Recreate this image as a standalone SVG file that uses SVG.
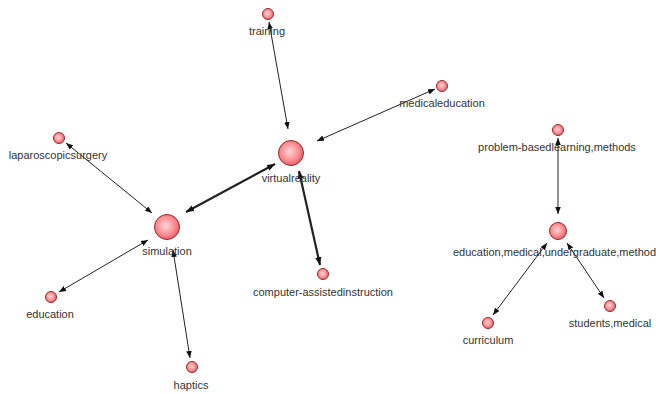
<svg xmlns="http://www.w3.org/2000/svg" width="656" height="394" viewBox="0 0 656 394">
<style>
.e{stroke:#222;stroke-width:1;fill:none;marker-start:url(#a);marker-end:url(#a)}
.t{stroke-width:2.2;marker-start:url(#b);marker-end:url(#b)}
.n{fill:url(#g);stroke:#9a2a2a;stroke-width:1}
.l{font-family:"Liberation Sans",Arial,sans-serif;font-size:11px;fill:#333;text-anchor:middle}
</style>
<defs>
<radialGradient id="g" cx="0.45" cy="0.45" r="0.6">
<stop offset="0" stop-color="#ffd6d6"/>
<stop offset="0.6" stop-color="#fa8d92"/>
<stop offset="1" stop-color="#e9505c"/>
</radialGradient>
<marker id="a" viewBox="0 0 10 10" refX="10" refY="5" markerWidth="7" markerHeight="7" markerUnits="userSpaceOnUse" orient="auto-start-reverse"><path d="M0,1 L10,5 L0,9 z" fill="#111"/></marker>
<marker id="b" viewBox="0 0 10 10" refX="10" refY="5" markerWidth="8" markerHeight="8" markerUnits="userSpaceOnUse" orient="auto-start-reverse"><path d="M0,1 L10,5 L0,9 z" fill="#111"/></marker>
</defs>
<g id="connectors">
<line class="e" x1="269" y1="22" x2="288" y2="129"/>
<line class="e" x1="435" y1="89" x2="317" y2="141"/>
<line class="e" x1="66" y1="143" x2="152" y2="213"/>
<line class="e t" x1="186" y1="212" x2="275" y2="164"/>
<line class="e" x1="148" y1="240" x2="59" y2="292"/>
<line class="e" x1="173" y1="250" x2="190" y2="358"/>
<line class="e t" x1="299" y1="171" x2="320" y2="265"/>
<line class="e" x1="558" y1="138" x2="558" y2="214"/>
<line class="e" x1="547" y1="243" x2="493" y2="315"/>
<line class="e" x1="567" y1="243" x2="604" y2="298"/>
</g>
<g id="training"><circle class="n" cx="268" cy="14" r="5.5"/><text class="l" x="267" y="35">training</text></g>
<g id="virtualreality"><circle class="n" cx="291" cy="153" r="12.5"/><text class="l" x="291" y="182">virtualreality</text></g>
<g id="medicaleducation"><circle class="n" cx="442" cy="86" r="5.5"/><text class="l" x="442" y="107">medicaleducation</text></g>
<g id="laparoscopicsurgery"><circle class="n" cx="59" cy="138" r="5.5"/><text class="l" x="58" y="159">laparoscopicsurgery</text></g>
<g id="simulation"><circle class="n" cx="167" cy="227" r="12.5"/><text class="l" x="167" y="255">simulation</text></g>
<g id="education"><circle class="n" cx="51" cy="297" r="5.5"/><text class="l" x="50" y="318">education</text></g>
<g id="haptics"><circle class="n" cx="192" cy="367" r="5.5"/><text class="l" x="191" y="389">haptics</text></g>
<g id="computer-assistedinstruction"><circle class="n" cx="323" cy="274" r="5.5"/><text class="l" x="323" y="296">computer-assistedinstruction</text></g>
<g id="problem-basedlearning-methods"><circle class="n" cx="558" cy="130" r="5.5"/><text class="l" x="557" y="151">problem-basedlearning,methods</text></g>
<g id="education-medical-undergraduate-methods"><circle class="n" cx="558" cy="231" r="8.5"/><text class="l" x="453" y="256" style="text-anchor:start">education,medical,undergraduate,methods</text></g>
<g id="curriculum"><circle class="n" cx="488" cy="323" r="5.5"/><text class="l" x="488" y="344">curriculum</text></g>
<g id="students-medical"><circle class="n" cx="610" cy="306" r="5.5"/><text class="l" x="610" y="327">students,medical</text></g>
</svg>
